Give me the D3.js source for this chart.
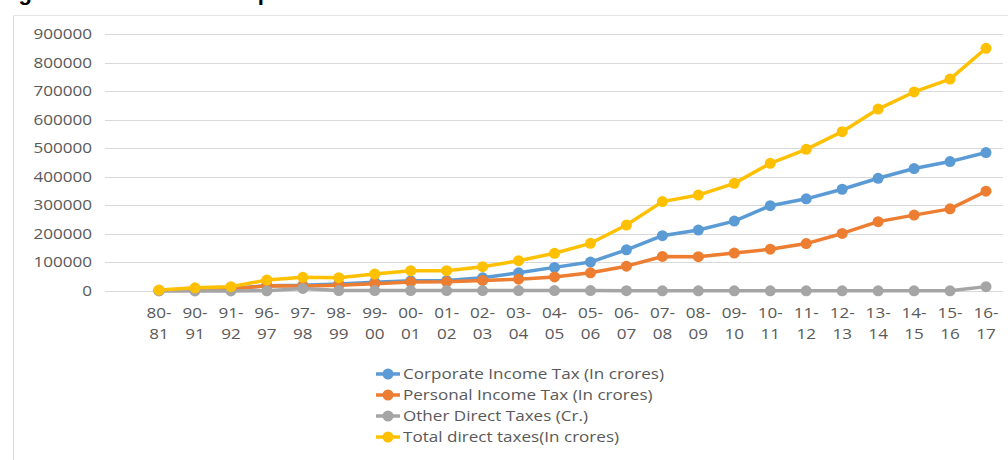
<!DOCTYPE html>
<html>
<head>
<meta charset="utf-8">
<script src="https://cdn.jsdelivr.net/npm/d3@7"></script>
<style>
  body { margin: 0; background: #fff; }
  svg { display: block; font-family: "Open Sans", sans-serif; }
</style>
</head>
<body>
<svg id="chart" width="1008" height="460"></svg>
<script>
// data (in crores)
var years = ['80-81','90-91','91-92','96-97','97-98','98-99','99-00','00-01','01-02','02-03','03-04','04-05',
  '05-06','06-07','07-08','08-09','09-10','10-11','11-12','12-13','13-14','14-15','15-16','16-17']
var corporate = [1400,5300,7900,18600,20000,24500,30700,35700,36600,46200,63600,82700,
  101300,144300,193600,213400,244700,298700,322800,356300,394700,428900,453200,484900]
var personal = [1500,5400,6700,18200,17100,20200,25700,31800,32000,36900,41400,49300,
  63700,87000,121000,120000,132800,146300,166000,201500,242900,265800,287600,349500]
var other = [300,300,300,900,9000,1500,1500,1500,1500,1500,1500,1500,
  1500,1000,800,800,800,800,800,800,800,800,800,15300]
var total = [3400,11000,15000,38500,48000,46600,59500,71000,71000,85000,106000,132000,
  167000,231000,313000,336000,377000,447000,496000,558000,637000,697000,742000,850000]
var yTicks = [0,100000,200000,300000,400000,500000,600000,700000,800000,900000]

var series = [
  {name:'Corporate Income Tax (In crores)', values:corporate, color:'#5b9bd5'},
  {name:'Personal Income Tax (In crores)', values:personal, color:'#ed7d31'},
  {name:'Other Direct Taxes (Cr.)', values:other, color:'#a5a5a5'},
  {name:'Total direct taxes(In crores)', values:total, color:'#ffc000'}
]

var svg = d3.select('#chart')
var sx = 1.22  // the picture is stretched sideways

var x = d3.scalePoint().domain(years).range([159, 986])
var y = d3.scaleLinear().domain([0, 900000]).range([291, 34])

// caption cut off by the top edge, only descenders show
svg.append('text')
  .attr('x', -1).attr('y', 0)
  .style('font-family', 'Liberation Sans, Arial, sans-serif')
  .style('font-weight', 'bold').style('font-size', '22px')
  .text('Figure 2: Direct Tax Components')
svg.append('line').attr('x1', 13.5).attr('x2', 13.5).attr('y1', 15).attr('y2', 460)
  .attr('stroke', '#d9d9d9')
svg.append('line').attr('x1', 13).attr('x2', 1008).attr('y1', 15.5).attr('y2', 15.5)
  .attr('stroke', '#e6e6e6')

// gridlines
svg.append('g').selectAll('line').data(yTicks).enter().append('line')
  .attr('x1', 105).attr('x2', 1003)
  .attr('y1', function(d){return Math.round(y(d)) + 0.5})
  .attr('y2', function(d){return Math.round(y(d)) + 0.5})
  .attr('stroke', '#d9d9d9')

// y labels
svg.append('g').selectAll('text').data(yTicks).enter().append('text')
  .attr('transform', function(d){return 'translate(92,' + (y(d) + 5) + ') scale(' + sx + ',1)'})
  .attr('text-anchor', 'end')
  .style('font-size', '14px').style('fill', '#595959')
  .text(function(d){return d})

// x labels, two lines each
var xl = svg.append('g').selectAll('g').data(years).enter().append('g')
  .attr('transform', function(d){return 'translate(' + x(d) + ',0) scale(' + sx + ',1)'})
xl.append('text').attr('y', 318).attr('text-anchor', 'middle')
  .style('font-size', '14px').style('fill', '#595959')
  .text(function(d){return d.split('-')[0] + '-'})
xl.append('text').attr('y', 339).attr('text-anchor', 'middle')
  .style('font-size', '14px').style('fill', '#595959')
  .text(function(d){return d.split('-')[1]})

// lines and markers
var line = d3.line()
  .x(function(d,i){return x(years[i])})
  .y(function(d){return y(d)})

series.forEach(function(s){
  var g = svg.append('g')
  g.append('path')
    .attr('d', line(s.values))
    .attr('fill', 'none')
    .attr('stroke', s.color)
    .attr('stroke-width', 3.5)
    .attr('stroke-linejoin', 'round')
  g.selectAll('circle').data(s.values).enter().append('circle')
    .attr('cx', function(d,i){return x(years[i])})
    .attr('cy', function(d){return y(d)})
    .attr('r', 5.5)
    .attr('fill', s.color)
})

// legend
var leg = svg.append('g').selectAll('g').data(series).enter().append('g')
  .attr('transform', function(d,i){return 'translate(0,' + (374 + i * 21) + ')'})
leg.append('line').attr('x1', 376).attr('x2', 400).attr('y1', 0).attr('y2', 0)
  .attr('stroke', function(d){return d.color}).attr('stroke-width', 3.5)
leg.append('circle').attr('cx', 388).attr('cy', 0).attr('r', 5.5)
  .attr('fill', function(d){return d.color})
leg.append('text')
  .attr('transform', 'translate(403,5) scale(' + sx + ',1)')
  .style('font-size', '14px').style('fill', '#595959')
  .text(function(d){return d.name})
</script>
</body>
</html>
